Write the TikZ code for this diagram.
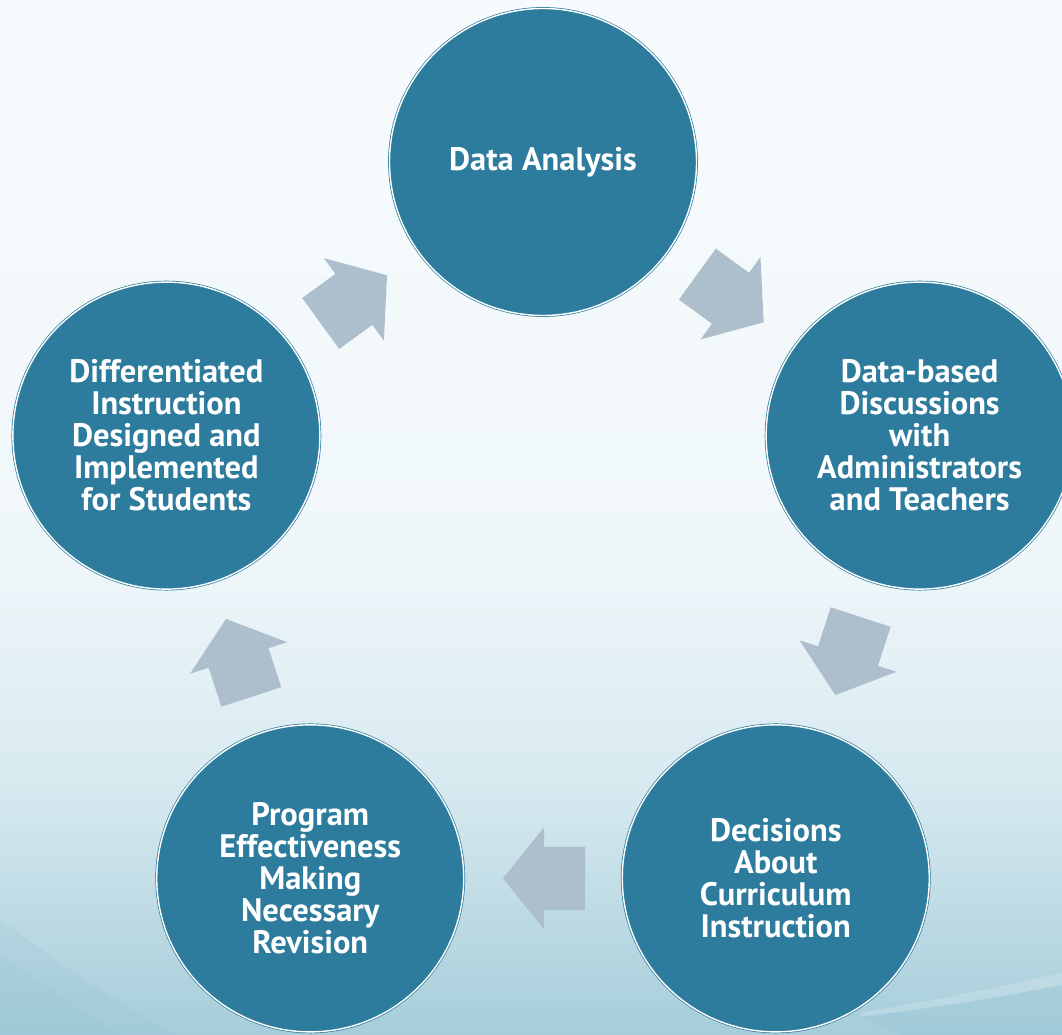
\documentclass[tikz,border=0pt]{standalone}
\usepackage{fontspec}
\setmainfont{PT Sans}
\usetikzlibrary{calc}

\definecolor{discblue}{RGB}{45,124,158}
\definecolor{flowgray}{RGB}{173,191,205}
\definecolor{bgtop}{RGB}{247,251,253}
\definecolor{bgmid}{RGB}{240,247,250}
\definecolor{bglow}{RGB}{216,234,240}
\definecolor{bgbot}{RGB}{166,205,218}
\definecolor{bgdeep}{RGB}{140,188,205}

\begin{document}
\begin{tikzpicture}[x=1pt,y=1pt,
  stage/.style={circle, fill=discblue, draw=discblue, line width=0.7pt,
    double=white, double distance=1.4pt, minimum size=307pt, inner sep=0pt,
    align=center, text=white,
    font=\bfseries\fontsize{32.5}{32}\selectfont},
  flow/.pic={\fill[flowgray] (-42,31.5) -- (-1,31.5) -- (-1,51) -- (40,0)
    -- (-1,-51) -- (-1,-31.5) -- (-42,-31.5) -- cycle;}
]
\useasboundingbox (0,0) rectangle (1062,1035);
\clip (0,0) rectangle (1062,1035);

% background: pale at the top, turning light teal towards the bottom
\shade[top color=bgtop, bottom color=bgmid] (0,484) rectangle (1062,1035);
\shade[top color=bgmid, bottom color=bglow] (0,254) rectangle (1062,486);
\shade[top color=bglow, bottom color=bgbot] (0,0) rectangle (1062,256);

% soft swooshes along the bottom edge
\fill[bgdeep, opacity=0.15] (0,0) -- (0,115) .. controls (50,80) and (110,35) .. (175,0) -- cycle;
\fill[bgdeep, opacity=0.12] (0,0) -- (0,80) .. controls (40,55) and (80,25) .. (120,0) -- cycle;
\fill[white, opacity=0.18] (860,22) .. controls (940,36) and (1000,48) .. (1062,62)
  -- (1062,50) .. controls (1000,38) and (940,28) .. (860,18) -- cycle;
\fill[bgdeep, opacity=0.2] (860,18) .. controls (940,28) and (1000,38) .. (1062,50)
  -- (1062,0) -- (900,0) -- cycle;

% the five stages on a regular pentagon
\coordinate (hub) at (543,477);
\node[stage] (analysis) at ($(hub)+(90:396)$)   {Data Analysis};
\node[stage] (discuss)  at ($(hub)+(18:396)$)   {Data-based\\Discussions\\with\\Administrators\\and Teachers};
\node[stage] (decide)   at ($(hub)+(-54:396)$)  {Decisions\\About\\Curriculum\\Instruction};
\node[stage] (review)   at ($(hub)+(-126:396)$) {Program\\Effectiveness\\Making\\Necessary\\Revision};
\node[stage] (teach)    at ($(hub)+(162:396)$)  {Differentiated\\Instruction\\Designed and\\Implemented\\for Students};

% block arrows running clockwise between the stages
\pic[rotate=-36]  (f1) at ($(analysis)!0.5!(discuss)$) {flow};
\pic[rotate=-108] (f2) at ($(discuss)!0.5!(decide)$)   {flow};
\pic[rotate=180]  (f3) at ($(decide)!0.5!(review)$)    {flow};
\pic[rotate=108]  (f4) at ($(review)!0.5!(teach)$)     {flow};
\pic[rotate=36]   (f5) at ($(teach)!0.5!(analysis)$)   {flow};
\end{tikzpicture}
\end{document}
